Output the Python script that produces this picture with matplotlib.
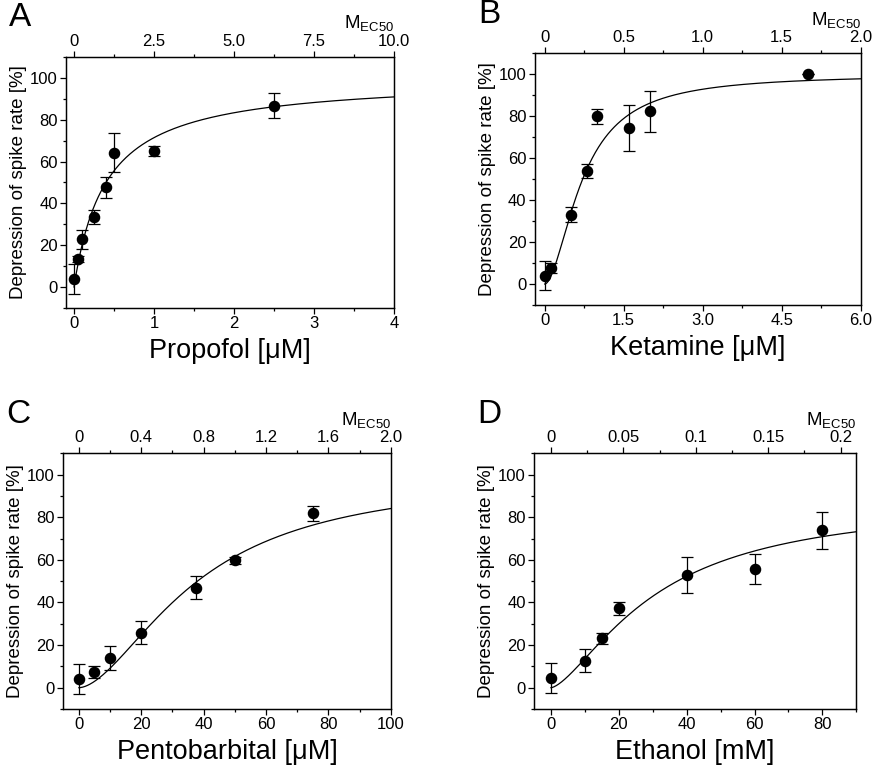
import numpy as np
import matplotlib
matplotlib.use("Agg")
import matplotlib.pyplot as plt
from matplotlib.ticker import FixedLocator, FixedFormatter, MultipleLocator

plt.rcParams['font.family'] = ['Liberation Sans', 'DejaVu Sans']
plt.rcParams['mathtext.default'] = 'regular'

# ---- data ----
# A: propofol
propofol_x = [0, 0.05, 0.1, 0.25, 0.4, 0.5, 1.0, 2.5]
propofol_y = [3.8, 13.4, 22.9, 33.6, 47.6, 64.3, 65.0, 86.8]
propofol_err = [7.0, 1.6, 4.5, 3.4, 5.1, 9.5, 2.5, 6.0]

# B: ketamine
ketamine_x = [0, 0.12, 0.5, 0.8, 1.0, 1.6, 2.0, 5.0]
ketamine_y = [4.0, 7.6, 33.0, 53.9, 80.0, 74.2, 82.4, 100.0]
ketamine_err = [7.0, 2.5, 3.5, 3.3, 3.5, 11.0, 9.7, 0.0]

# C: pentobarbital
pento_x = [0, 5, 10, 20, 37.5, 50, 75]
pento_y = [4.0, 7.3, 13.9, 25.7, 46.9, 59.7, 81.8]
pento_err = [7.0, 2.7, 5.7, 5.4, 5.3, 1.5, 3.5]

# D: ethanol
ethanol_x = [0, 10, 15, 20, 40, 60, 80]
ethanol_y = [4.4, 12.7, 23.2, 37.2, 52.9, 55.7, 73.9]
ethanol_err = [7.0, 5.5, 2.6, 3.0, 8.5, 7.0, 8.7]

# Hill fit parameters (EC50, n, Emax) for the drawn curves
propofol_fit = (0.4, 1.0, 100)
ketamine_fit = (0.72, 1.8, 100)
pento_fit = (38, 1.72, 100)
ethanol_fit = (31, 1.5, 88)

# concentration of 1 M_EC50 (scales the top axis)
propofol_mec50 = 0.4
ketamine_mec50 = 3.0
pento_mec50 = 50.0
ethanol_mec50 = 427.0

y_ticks = [0, 20, 40, 60, 80, 100]

panels = [
    dict(letter='A', xlabel='Propofol [μM]', x=propofol_x, y=propofol_y, err=propofol_err,
         fit=propofol_fit, mec=propofol_mec50, xlim=(-0.1, 4),
         bt=[0, 1, 2, 3, 4], btl=['0', '1', '2', '3', '4'], bminor=0.5,
         tt=[0, 2.5, 5.0, 7.5, 10.0], ttl=['0', '2.5', '5.0', '7.5', '10.0'], tminor=1.25,
         rect=[0.0752, 0.598, 0.3735, 0.3276]),
    dict(letter='B', xlabel='Ketamine [μM]', x=ketamine_x, y=ketamine_y, err=ketamine_err,
         fit=ketamine_fit, mec=ketamine_mec50, xlim=(-0.19, 6),
         bt=[0, 1.5, 3.0, 4.5, 6.0], btl=['0', '1.5', '3.0', '4.5', '6.0'], bminor=0.75,
         tt=[0, 0.5, 1.0, 1.5, 2.0], ttl=['0', '0.5', '1.0', '1.5', '2.0'], tminor=0.25,
         rect=[0.609, 0.6018, 0.3713, 0.3286]),
    dict(letter='C', xlabel='Pentobarbital [μM]', x=pento_x, y=pento_y, err=pento_err,
         fit=pento_fit, mec=pento_mec50, xlim=(-5, 100),
         bt=[0, 20, 40, 60, 80, 100], btl=['0', '20', '40', '60', '80', '100'], bminor=10,
         tt=[0, 0.4, 0.8, 1.2, 1.6, 2.0], ttl=['0', '0.4', '0.8', '1.2', '1.6', '2.0'], tminor=0.2,
         rect=[0.0721, 0.0744, 0.3729, 0.3338]),
    dict(letter='D', xlabel='Ethanol [mM]', x=ethanol_x, y=ethanol_y, err=ethanol_err,
         fit=ethanol_fit, mec=ethanol_mec50, xlim=(-5, 90),
         bt=[0, 20, 40, 60, 80], btl=['0', '20', '40', '60', '80'], bminor=10,
         tt=[0, 0.05, 0.1, 0.15, 0.2], ttl=['0', '0.05', '0.1', '0.15', '0.2'], tminor=0.025,
         rect=[0.6082, 0.0744, 0.3671, 0.3338]),
]

fig = plt.figure(figsize=(8.78, 7.66), dpi=100)

for p in panels:
    ax = fig.add_axes(p['rect'])
    ec50, n, emax = p['fit']
    xc = np.linspace(0, p['xlim'][1], 400)
    ax.plot(xc, emax * xc**n / (xc**n + ec50**n), color='black', lw=0.9)
    ax.errorbar(p['x'], p['y'], yerr=p['err'], fmt='o', color='black', ms=7.3,
                elinewidth=0.9, capsize=4, capthick=0.9)
    ax.set_xlim(p['xlim'])
    ax.set_ylim(-10, 110)
    ax.xaxis.set_major_locator(FixedLocator(p['bt']))
    ax.xaxis.set_major_formatter(FixedFormatter(p['btl']))
    ax.xaxis.set_minor_locator(MultipleLocator(p['bminor']))
    ax.set_yticks(y_ticks)
    ax.set_yticklabels([str(v) for v in y_ticks])
    ax.yaxis.set_minor_locator(MultipleLocator(10))
    ax.tick_params(which='both', direction='out', labelsize=12, width=0.9)
    ax.tick_params(which='major', length=4, pad=2)
    ax.tick_params(which='minor', length=2)
    for s in ax.spines.values():
        s.set_linewidth(0.9)
    ax.set_xlabel(p['xlabel'], fontsize=19.5, labelpad=5)
    ax.set_ylabel('Depression of spike rate [%]', fontsize=13.5, labelpad=2)

    top = ax.twiny()
    top.set_xlim(p['xlim'][0] / p['mec'], p['xlim'][1] / p['mec'])
    top.xaxis.set_major_locator(FixedLocator(p['tt']))
    top.xaxis.set_major_formatter(FixedFormatter(p['ttl']))
    top.xaxis.set_minor_locator(MultipleLocator(p['tminor']))
    top.tick_params(which='both', direction='out', labelsize=12, width=0.9)
    top.tick_params(which='major', length=4, pad=2)
    top.tick_params(which='minor', length=2)
    for s in top.spines.values():
        s.set_linewidth(0.9)

    ax.annotate('M$_{EC50}$', xy=(1.0, 1.0), xycoords='axes fraction',
                xytext=(0, 17), textcoords='offset points', ha='right', va='bottom',
                fontsize=13.5)
    ax.annotate(p['letter'], xy=(0, 1.0), xycoords='axes fraction',
                xytext=(-41, 17), textcoords='offset points', ha='left', va='bottom',
                fontsize=24)

fig.savefig('out.png', dpi=100)
